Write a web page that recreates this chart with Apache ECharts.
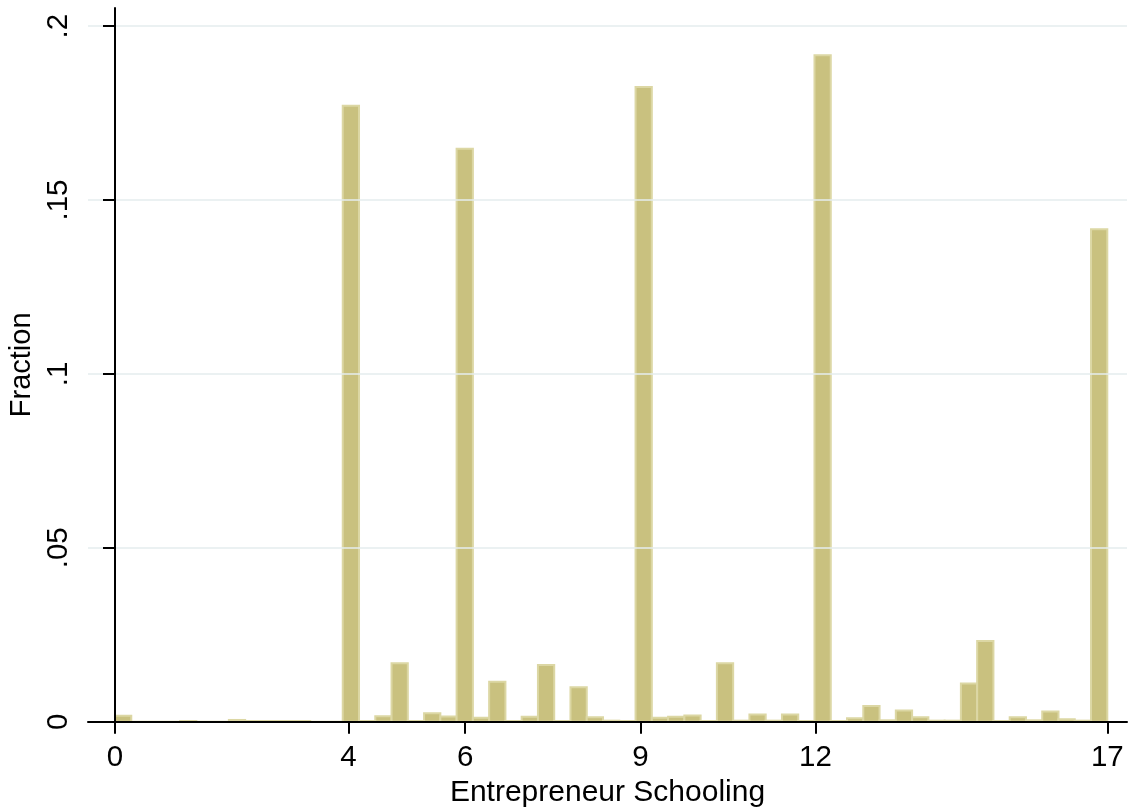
<!DOCTYPE html>
<html>
<head>
<meta charset="utf-8">
<title>Entrepreneur Schooling</title>
<script src="https://cdn.jsdelivr.net/npm/echarts@6/dist/echarts.min.js"></script>
<style>
  html, body { margin: 0; padding: 0; background: #ffffff; }
  #chart { width: 1137px; height: 810px; }
</style>
</head>
<body>
<div id="chart"></div>
<script>
// Histogram of years of schooling: 61 equal-width bins spanning 0 to 17.
const schoolingMin = 0;
const schoolingMax = 17;
const binCount = 61;

// Fraction of entrepreneurs in each bin, left to right.
const binFractions = [
  0.0017, 0, 0, 0, 0.0002, 0, 0, 0.0005, 0.0002, 0.0002,
  0.0002, 0.0002, 0, 0, 0.1771, 0.0002, 0.0016, 0.0168, 0.0002, 0.0024,
  0.0015, 0.1647, 0.0011, 0.0115, 0.0002, 0.0014, 0.0163, 0.0002, 0.0099, 0.0013,
  0.0003, 0.0002, 0.1825, 0.0011, 0.0014, 0.0018, 0.0002, 0.0168, 0.0003, 0.0021,
  0.0003, 0.0021, 0.0002, 0.1916, 0.0002, 0.0010, 0.0045, 0.0004, 0.0032, 0.0013,
  0.0003, 0.0003, 0.0110, 0.0232, 0.0002, 0.0013, 0.0004, 0.0029, 0.0007, 0.0003,
  0.1416
];

// Axis ticks and their labels.
const xTickValues = [0, 4, 6, 9, 12, 17];
const yTickValues = [0, 0.05, 0.1, 0.15, 0.2];
const yTickLabels = ['0', '.05', '.1', '.15', '.2'];

const xTitle = 'Entrepreneur Schooling';
const yTitle = 'Fraction';

// [binStart, binEnd, fraction] rows for the custom bar renderer.
const binWidth = (schoolingMax - schoolingMin) / binCount;
const barRows = binFractions.map((f, k) => [
  schoolingMin + k * binWidth,
  schoolingMin + (k + 1) * binWidth,
  f
]);

const FONT = '"Liberation Sans", Arial, sans-serif';
const chart = echarts.init(document.getElementById('chart'), null, { renderer: 'canvas' });

chart.setOption({
  animation: false,
  backgroundColor: '#ffffff',
  grid: { left: 88, right: 10, top: 8, bottom: 88.3, containLabel: false, outerBoundsMode: 'none' },
  xAxis: {
    type: 'value',
    min: -0.4626,
    max: 17.3375,
    z: 5,
    name: xTitle,
    nameLocation: 'middle',
    nameGap: 53,
    nameTextStyle: { fontFamily: FONT, fontSize: 30, color: '#000000' },
    axisLine: { show: true, onZero: false, lineStyle: { color: '#000000', width: 2 } },
    axisTick: { show: true, customValues: xTickValues, length: 12, lineStyle: { color: '#000000', width: 2 } },
    axisLabel: { customValues: xTickValues, margin: 21, fontFamily: FONT, fontSize: 29.5, color: '#000000' },
    splitLine: { show: false }
  },
  yAxis: {
    type: 'value',
    min: 0,
    max: 0.2052,
    z: 5,
    name: yTitle,
    nameLocation: 'middle',
    nameGap: 50,
    nameRotate: 90,
    nameTextStyle: { fontFamily: FONT, fontSize: 29, color: '#000000' },
    axisLine: { show: true, lineStyle: { color: '#000000', width: 2 } },
    axisTick: { show: true, customValues: yTickValues, length: 12, lineStyle: { color: '#000000', width: 2 } },
    axisLabel: {
      customValues: yTickValues,
      rotate: 90,
      margin: 14,
      fontFamily: FONT,
      fontSize: 29.5,
      color: '#000000',
      formatter: (v) => {
        const i = yTickValues.findIndex((t) => Math.abs(t - v) < 1e-9);
        return i >= 0 ? yTickLabels[i] : '';
      }
    },
    splitLine: { show: true, lineStyle: { color: '#e4ecee', width: 1.5 } }
  },
  series: [{
    type: 'custom',
    z: 2,
    data: barRows,
    encode: { x: [0, 1], y: 2 },
    renderItem: (params, api) => {
      const topLeft = api.coord([api.value(0), api.value(2)]);
      const bottomRight = api.coord([api.value(1), 0]);
      return {
        type: 'rect',
        shape: {
          x: topLeft[0],
          y: topLeft[1],
          width: bottomRight[0] - topLeft[0],
          height: bottomRight[1] - topLeft[1]
        },
        style: { fill: '#c9c17f', stroke: '#dcd7a4', lineWidth: 2 }
      };
    }
  }]
});
</script>
</body>
</html>
